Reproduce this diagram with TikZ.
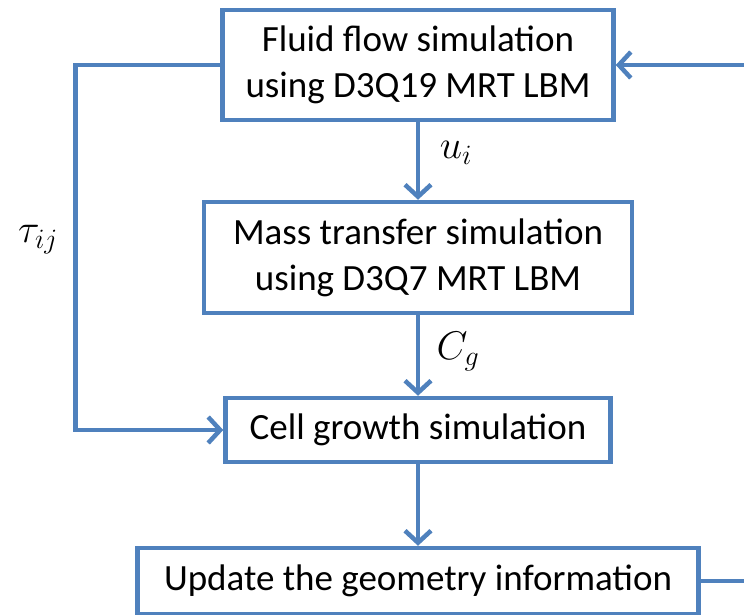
\RequirePackage{fix-cm}
\documentclass[tikz,border=0pt]{standalone}
\usepackage{fontspec}
\setmainfont{Carlito}
\usetikzlibrary{arrows.meta}
\definecolor{flowblue}{RGB}{79,129,189}

\begin{document}
\begin{tikzpicture}[
    x=1pt, y=-1pt,
    box/.style={rectangle, draw=flowblue, line width=4.5pt, align=center, inner sep=0pt, fill=white, font=\fontsize{37}{46}\selectfont},
    arrow/.style={-{Straight Barb[length=12pt,width=26pt]}, draw=flowblue, line width=4.5pt},
    lbl/.style={font=\fontsize{40}{44}\selectfont}
]
\clip (0,0) rectangle (744,615);

\node[box, minimum width=391pt, minimum height=110pt] (fluid) at (418,65) {Fluid flow simulation\\using D3Q19 MRT LBM};
\node[box, minimum width=428pt, minimum height=111pt] (mass) at (418,257.5) {Mass transfer simulation\\using D3Q7 MRT LBM};
\node[box, minimum width=385pt, minimum height=64pt] (cell) at (418,430) {Cell growth simulation};
\node[box, minimum width=561pt, minimum height=66pt] (update) at (418,581) {Update the geometry information};

\node[lbl] (ui) at (456,153) {$u_i$};
\node[lbl] (cg) at (458,352) {$C_g$};
\node[lbl] (tau) at (38,240) {$\tau_{ij}$};

\draw[arrow] (fluid) -- (mass);
\draw[arrow] (mass) -- (cell);
\draw[arrow] (cell) -- (update);
\draw[arrow] (fluid.west) -- ++(-145,0) |- (cell.west);
\draw[arrow] (update.east) -- ++(60,0) |- (fluid.east);
\end{tikzpicture}
\end{document}
